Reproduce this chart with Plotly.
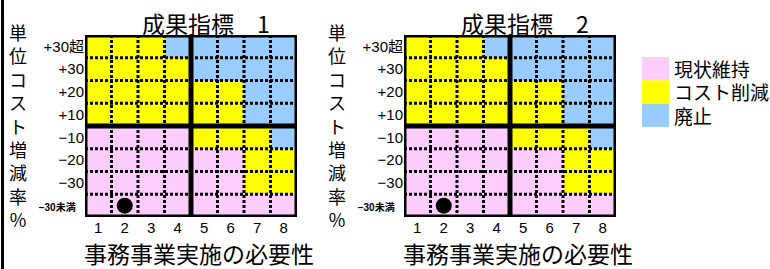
import plotly.graph_objects as go

# ---------------- data ----------------
x_labels = ["1", "2", "3", "4", "5", "6", "7", "8"]
y_labels = ["+30超", "+30", "+20", "+10", "−10", "−20", "−30", "−30未満"]  # top -> bottom
categories = ["現状維持", "コスト削減", "廃止"]
cat_colors = ["#FFCCFF", "#FFFF00", "#99CCFF"]
titles = ["成果指標　1", "成果指標　2"]
x_title = "事務事業実施の必要性"
y_title = "単位コスト増減率%"

# judgement grid, rows top -> bottom, value = index into categories
grid_1 = [
    [1, 1, 1, 2, 2, 2, 2, 2],
    [1, 1, 1, 1, 2, 2, 2, 2],
    [1, 1, 1, 1, 1, 1, 2, 2],
    [1, 1, 1, 1, 1, 1, 2, 2],
    [0, 0, 0, 0, 1, 1, 1, 2],
    [0, 0, 0, 0, 0, 0, 1, 1],
    [0, 0, 0, 0, 0, 0, 1, 1],
    [0, 0, 0, 0, 0, 0, 0, 0],
]
grid_2 = [
    [1, 1, 1, 2, 2, 2, 2, 2],
    [1, 1, 1, 1, 2, 2, 2, 2],
    [1, 1, 1, 1, 1, 1, 2, 2],
    [1, 1, 1, 1, 1, 1, 2, 2],
    [0, 0, 0, 0, 1, 1, 1, 2],
    [0, 0, 0, 0, 0, 0, 1, 1],
    [0, 0, 0, 0, 0, 0, 1, 1],
    [0, 0, 0, 0, 0, 0, 0, 0],
]
point_1_x = ["2"]
point_1_y = ["−30未満"]
point_2_x = ["2"]
point_2_y = ["−30未満"]

# ---------------- layout constants ----------------
W, H = 770, 269
FONT = "Liberation Sans, Arial, Noto Sans CJK JP, sans-serif"
JFONT = "Noto Sans CJK JP, sans-serif"

def px(v):
    return v / W

def py(v):
    return 1 - v / H

charts = [
    dict(grid=grid_1, px_x=point_1_x, px_y=point_1_y, title=titles[0],
         left=85, right=297, xa="x", ya="y"),
    dict(grid=grid_2, px_x=point_2_x, px_y=point_2_y, title=titles[1],
         left=404, right=616, xa="x2", ya="y2"),
]
TOP, BOTTOM = 35, 217

colorscale = [[0.0, cat_colors[0]], [0.5, cat_colors[1]], [1.0, cat_colors[2]]]
xnum = [int(v) for v in x_labels]
ynum = list(range(len(y_labels)))

fig = go.Figure()
shapes = []
annotations = []

tick_text = [
    (f"<span style='font-size:10px'><b>{t}</b></span>\u00a0\u00a0" if "未満" in t else t)
    for t in y_labels
]

for i, c in enumerate(charts):
    fig.add_trace(go.Heatmap(
        z=c["grid"], x=xnum, y=ynum, colorscale=colorscale, zmin=0, zmax=2,
        showscale=False, xaxis=c["xa"], yaxis=c["ya"], hoverinfo="skip",
    ))
    fig.add_trace(go.Scatter(
        x=[int(v) for v in c["px_x"]], y=[y_labels.index(v) for v in c["px_y"]],
        mode="markers", marker=dict(color="black", size=16),
        xaxis=c["xa"], yaxis=c["ya"], showlegend=False, hoverinfo="skip",
    ))
    xr, yr = c["xa"], c["ya"]
    # dotted inner grid
    for xv in [1.5, 2.5, 3.5, 5.5, 6.5, 7.5]:
        shapes.append(dict(type="line", xref=xr, yref=yr, x0=xv, x1=xv, y0=-0.5, y1=7.5,
                           line=dict(color="black", width=3, dash="3px,2px")))
    for yv in [0.5, 1.5, 2.5, 4.5, 5.5, 6.5]:
        shapes.append(dict(type="line", xref=xr, yref=yr, x0=0.5, x1=8.5, y0=yv, y1=yv,
                           line=dict(color="black", width=3, dash="3px,2px")))
    # thick quadrant lines and border
    shapes.append(dict(type="line", xref=xr, yref=yr, x0=4.5, x1=4.5, y0=-0.5, y1=7.5,
                       line=dict(color="black", width=5)))
    shapes.append(dict(type="line", xref=xr, yref=yr, x0=0.5, x1=8.5, y0=3.5, y1=3.5,
                       line=dict(color="black", width=5)))
    shapes.append(dict(type="rect", xref=xr, yref=yr, x0=0.5, x1=8.5, y0=-0.5, y1=7.5,
                       line=dict(color="black", width=5)))
    # titles
    annotations.append(dict(text=c["title"], xref="paper", yref="paper",
                            x=px(c["left"] + 121), y=py(23), xanchor="center", yanchor="middle",
                            showarrow=False, font=dict(family=JFONT, size=23, color="black")))
    annotations.append(dict(text=x_title, xref="paper", yref="paper",
                            x=px(c["left"] + 114), y=py(253), xanchor="center", yanchor="middle",
                            showarrow=False, font=dict(family=JFONT, size=23, color="black")))
    annotations.append(dict(text="<br>".join(list(y_title)), xref="paper", yref="paper",
                            x=px(c["left"] - 67), y=py(126), xanchor="center", yanchor="middle",
                            showarrow=False, font=dict(family=JFONT, size=18, color="black")))

# left page border
shapes.append(dict(type="line", xref="paper", yref="paper", x0=px(2.5), x1=px(2.5), y0=0, y1=1,
                   line=dict(color="black", width=3)))

# legend
LEG_X0, LEG_X1, LEG_Y0, LEG_H = 642, 669, 57, 23.3
for k, (name, col) in enumerate(zip(categories, cat_colors)):
    y0 = LEG_Y0 + k * LEG_H
    shapes.append(dict(type="rect", xref="paper", yref="paper",
                       x0=px(LEG_X0), x1=px(LEG_X1), y0=py(y0), y1=py(y0 + LEG_H),
                       fillcolor=col, line=dict(width=0)))
    annotations.append(dict(text=name, xref="paper", yref="paper", x=px(672), y=py(y0 + LEG_H / 2),
                            xanchor="left", yanchor="middle", showarrow=False,
                            font=dict(family=JFONT, size=19, color="black")))

axis_common = dict(showgrid=False, zeroline=False, showline=False, ticks="", fixedrange=True)
layout = dict(
    width=W, height=H, margin=dict(l=0, r=0, t=0, b=0),
    paper_bgcolor="white", plot_bgcolor="white", showlegend=False,
    shapes=shapes, annotations=annotations,
)
for i, c in enumerate(charts):
    sfx = "" if i == 0 else "2"
    layout["xaxis" + sfx] = dict(
        axis_common, domain=[px(c["left"]), px(c["right"])], range=[0.5, 8.5],
        tickvals=xnum, ticktext=x_labels, anchor="y" + sfx, automargin=False,
        tickfont=dict(family=FONT, size=15, color="black"),
    )
    layout["yaxis" + sfx] = dict(
        axis_common, domain=[py(BOTTOM), py(TOP)], range=[7.5, -0.5],
        tickvals=ynum, ticktext=tick_text, anchor="x" + sfx, automargin=False,
        tickfont=dict(family=FONT, size=15, color="black"),
    )
fig.update_layout(**layout)
fig.write_html(
    "out.html",
    config={"displayModeBar": False},
    post_script="document.body.style.margin='0';document.body.style.overflow='hidden';",
)
